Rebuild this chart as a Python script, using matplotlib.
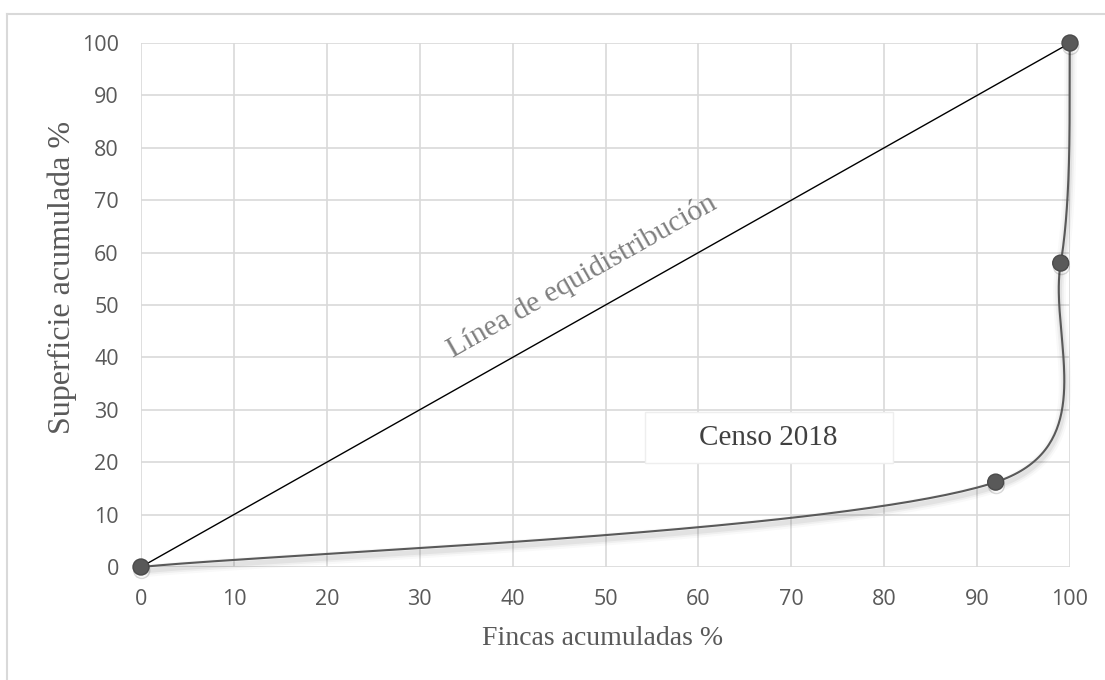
import numpy as np
import matplotlib

matplotlib.use("Agg")
import matplotlib.pyplot as plt
import matplotlib.patheffects as pe
from matplotlib.lines import Line2D
from matplotlib.patches import Rectangle

# ── data ──────────────────────────────────────────────────────────────────────
fincas = [0, 92, 99, 100]          # fincas acumuladas %
superficie = [0, 16.2, 58, 100]    # superficie acumulada %
equi_x = [0, 100]
equi_y = [0, 100]
ticks = list(range(0, 101, 10))

INK = "#595959"
GRID = "#d9d9d9"
SERIF = ["Liberation Serif", "DejaVu Serif"]
SANS = ["Open Sans", "DejaVu Sans"]

fig = plt.figure(figsize=(11.05, 6.8), dpi=100)
ax = fig.add_axes([141 / 1105, 1 - 567 / 680, 929 / 1105, 524 / 680])
ax.set_xlim(0, 100)
ax.set_ylim(0, 100)
ax.set_xticks(ticks)
ax.set_yticks(ticks)
ax.grid(True, color=GRID, lw=1.2)
ax.set_axisbelow(True)
for s in ax.spines.values():
    s.set_visible(False)
ax.tick_params(length=0, colors=INK, labelsize=15.5, pad=16)
for lab in ax.get_xticklabels() + ax.get_yticklabels():
    lab.set_family(SANS)


def excel_smooth(P, n=80):
    """Bezier smoothing the way spreadsheet 'smoothed line' charts do it."""
    N = len(P)
    out = []
    for i in range(N - 1):
        p0, p1 = P[max(i - 1, 0)], P[i]
        p2, p3 = P[i + 1], P[min(i + 2, N - 1)]
        d12 = np.hypot(*(p2 - p1))

        def tan(a, b):
            d = np.hypot(*(b - a))
            if d == 0:
                return np.zeros(2)
            return (b - a) * min(1 / 6, 0.5 * d12 / d)

        c1 = p1 + tan(p0, p2)
        c2 = p2 - tan(p1, p3)
        t = np.linspace(0, 1, n)[:, None]
        seg = ((1 - t) ** 3) * p1 + 3 * ((1 - t) ** 2) * t * c1 \
            + 3 * (1 - t) * t ** 2 * c2 + t ** 3 * p2
        out.append(seg if i == 0 else seg[1:])
    return np.vstack(out)


# smooth in pixel space, then back to data
pix = ax.transData.transform(np.column_stack([fincas, superficie]))
curve = ax.transData.inverted().transform(excel_smooth(pix))

# soft drop shadow: a few widening, faint strokes
shadow = [pe.SimpleLineShadow(offset=(0.5, -3), shadow_color="k", alpha=a,
                              linewidth=w) for w, a in ((9, 0.025), (6, 0.04), (3.5, 0.05))]
shadow.append(pe.Normal())

# equidistribution line
ax.plot(equi_x, equi_y, color="black", lw=1.0, zorder=3)

# Lorenz curve
ax.plot(curve[:, 0], curve[:, 1], color=INK, lw=1.5, zorder=4,
        clip_on=False, path_effects=shadow)
ax.plot(fincas, superficie, ls="none", marker="o", ms=11.5, color=INK,
        mec="#4a4a4a", zorder=5, clip_on=False,
        path_effects=[pe.SimpleLineShadow(offset=(0.5, -2.5), shadow_color="k",
                                          alpha=0.15), pe.Normal()])

# labels inside the plot
ax.text(47.5, 55.5, "Línea de equidistribución", rotation=29.5,
        rotation_mode="anchor", ha="center", va="center", fontsize=21.5,
        color="#7f7f7f", family=SERIF, zorder=6)
ax.add_patch(Rectangle((54.3, 19.8), 26.6, 9.8, fc="white", ec="#eeeeee",
                       lw=1.0, zorder=2))
ax.text(67.5, 24.6, "Censo 2018", ha="center", va="center", fontsize=21,
        color="#404040", family=SERIF, zorder=6)

ax.set_xlabel("Fincas acumuladas %", fontsize=20, color=INK, family=SERIF)
ax.xaxis.set_label_coords(0.497, -0.112)
ax.set_ylabel("Superficie acumulada %", fontsize=23, color=INK, family=SERIF)
ax.yaxis.set_label_coords(-0.069, 0.553)

# chart-area border (cropped on the right and bottom)
bx, by = 7 / 1105, 1 - 14 / 680
fig.add_artist(Line2D([bx, bx], [0, by], color=GRID, lw=1.5))
fig.add_artist(Line2D([bx, 1], [by, by], color=GRID, lw=1.5))

fig.savefig("out.png", dpi=100, facecolor="white")
